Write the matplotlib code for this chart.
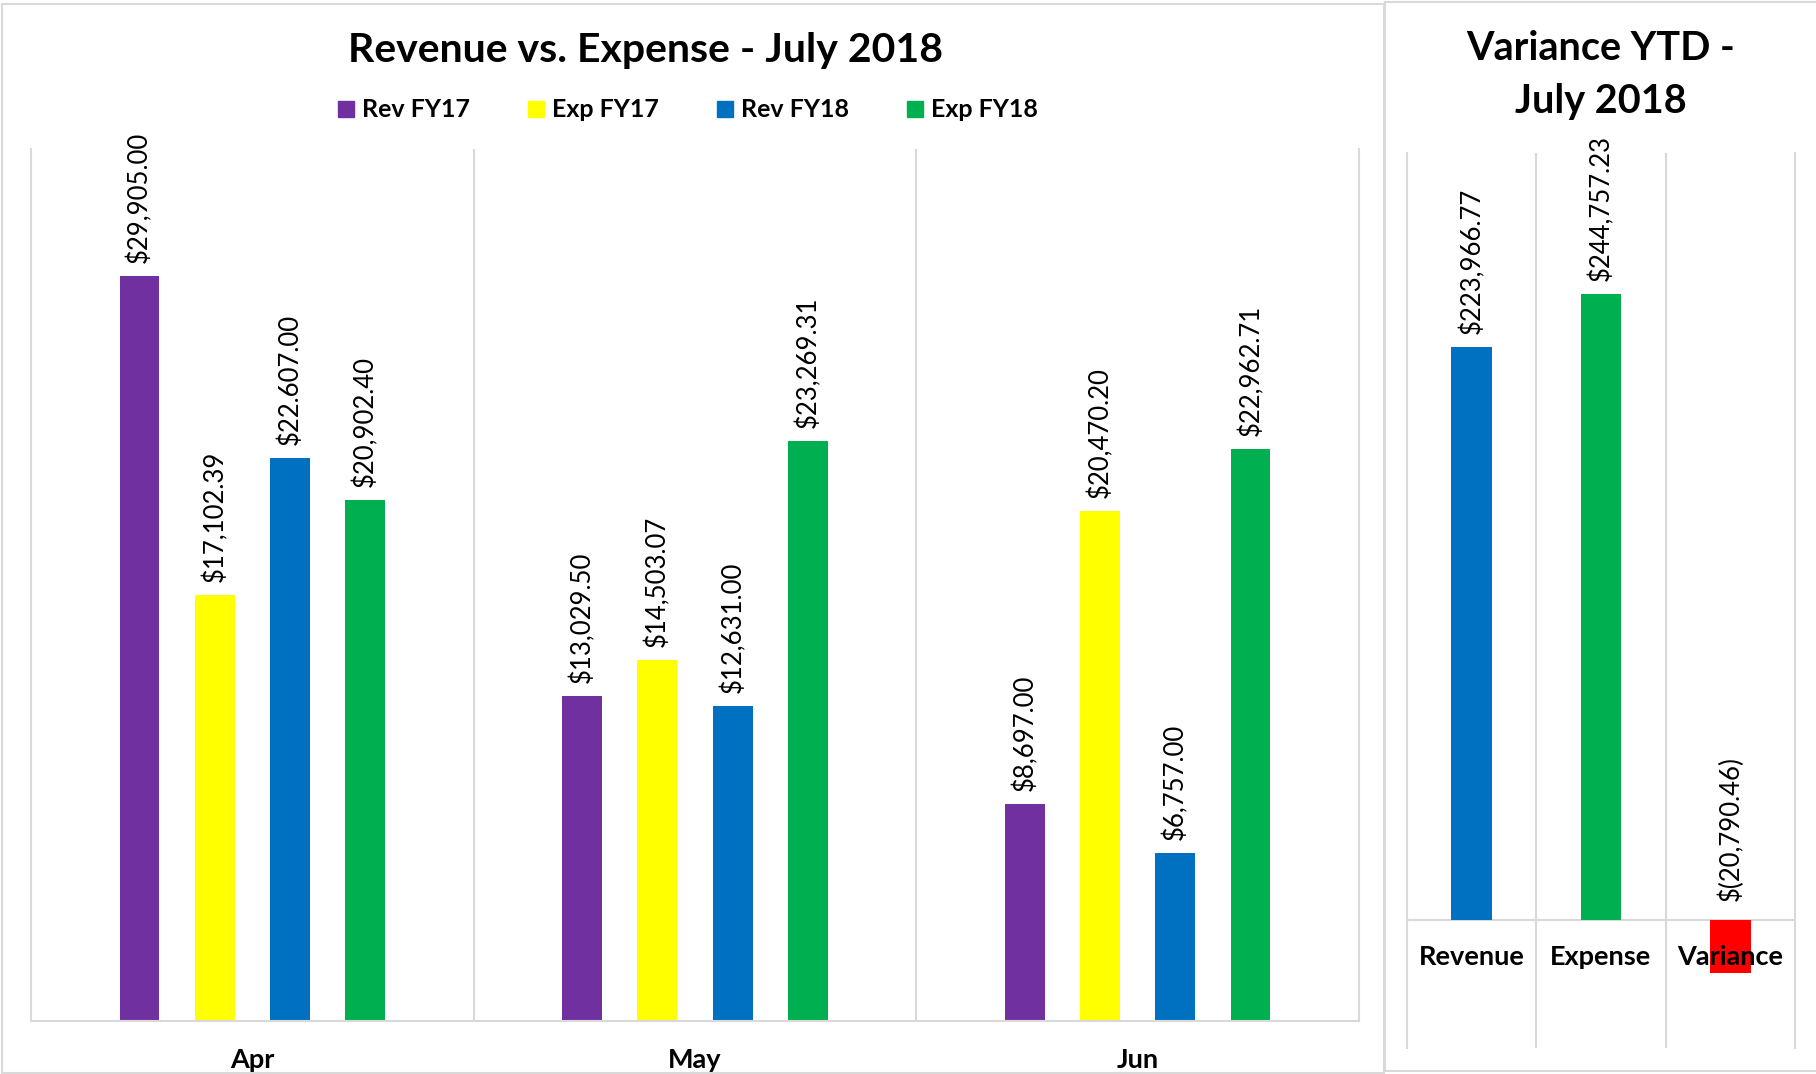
import numpy as np
import matplotlib
matplotlib.use('Agg')
import matplotlib.pyplot as plt
from matplotlib.patches import Rectangle

# monthly figures
months = ['Apr', 'May', 'Jun']
series = ['Rev FY17', 'Exp FY17', 'Rev FY18', 'Exp FY18']
rev_fy17 = [29905.00, 13029.50, 8697.00]
exp_fy17 = [17102.39, 14503.07, 20470.20]
rev_fy18 = [22607.00, 12631.00, 6757.00]
exp_fy18 = [20902.40, 23269.31, 22962.71]
colors = ['#7030A0', '#FFFF00', '#0070C0', '#00B050']

# year to date
ytd_names = ['Revenue', 'Expense', 'Variance']
ytd_values = [223966.77, 244757.23, -20790.46]
ytd_colors = ['#0070C0', '#00B050', '#FF0000']

# label text as it was typed in the sheet
label_fix = {(2, 0): '$22.607.00'}

GRID = '#D9D9D9'
W, H = 1816, 1074


def fx(px):
    return px / W


def fy(py):
    return 1 - py / H


def money(v):
    s = '{:,.2f}'.format(abs(v))
    return '$(' + s + ')' if v < 0 else '$' + s


plt.rcParams['font.family'] = ['Lato', 'DejaVu Sans']

fig = plt.figure(figsize=(W / 100, H / 100), dpi=100)

# left chart: monthly bars
ax = fig.add_axes([fx(31), fy(1021), fx(1359) - fx(31), fy(149) - fy(1021)])
x = np.arange(len(months))
offsets = [-0.255, -0.085, 0.085, 0.255]
for i, vals in enumerate([rev_fy17, exp_fy17, rev_fy18, exp_fy18]):
    bars = ax.bar(x + offsets[i], vals, width=0.09, color=colors[i], zorder=2)
    for j, b in enumerate(bars):
        txt = label_fix.get((i, j), money(vals[j]))
        ax.annotate(txt, (b.get_x() + b.get_width() / 2, b.get_height()),
                    xytext=(0, 13), textcoords='offset pixels',
                    rotation=90, ha='center', va='bottom', fontsize=18.5)

ax.set_xlim(-0.5, 2.5)
ax.set_ylim(0, 35000)
ax.set_yticks([])
ax.set_xticks(x)
ax.set_xticklabels(months, fontsize=19.5, fontweight='bold')
ax.tick_params(axis='x', length=0, pad=19.5)
ax.spines['top'].set_visible(False)
for s in ['left', 'right', 'bottom']:
    ax.spines[s].set_color(GRID)
    ax.spines[s].set_linewidth(1.5)
for b in [0.5, 1.5]:
    ax.axvline(b, color=GRID, lw=1.5, zorder=1)

# right chart: ytd totals
ax2 = fig.add_axes([fx(1407), fy(1048), fx(1795) - fx(1407), fy(153) - fy(1048)])
xr = np.arange(len(ytd_names))
bars = ax2.bar(xr, ytd_values, width=0.317, color=ytd_colors, zorder=2)
for j, b in enumerate(bars):
    v = ytd_values[j]
    ax2.annotate(money(v), (b.get_x() + b.get_width() / 2, max(v, 0)),
                 xytext=(0, 13 if v >= 0 else 19), textcoords='offset pixels',
                 rotation=90, ha='center', va='bottom', fontsize=18.5)
    ax2.annotate(ytd_names[j], (xr[j], 0), xytext=(0, -37),
                 textcoords='offset pixels', ha='center', va='center',
                 fontsize=19.5, fontweight='bold', zorder=5)

ax2.set_xlim(-0.5, 2.5)
ax2.set_ylim(-50000, 300000)
ax2.set_xticks([])
ax2.set_yticks([])
for s in ['top', 'bottom']:
    ax2.spines[s].set_visible(False)
for s in ['left', 'right']:
    ax2.spines[s].set_color(GRID)
    ax2.spines[s].set_linewidth(1.5)
for b in [0.5, 1.5]:
    ax2.axvline(b, color=GRID, lw=1.5, zorder=1)
ax2.axhline(0, color=GRID, lw=1.5, zorder=1)

# titles
fig.text(fx(645), fy(62), 'Revenue vs. Expense - July 2018', ha='center',
         va='baseline', fontsize=29.5, fontweight='bold')
fig.text(fx(1601), fy(60), 'Variance YTD -', ha='center', va='baseline',
         fontsize=28.5, fontweight='bold')
fig.text(fx(1601), fy(113), 'July 2018', ha='center', va='baseline',
         fontsize=28.5, fontweight='bold')

# legend
for k, name in enumerate(series):
    lx = [338, 528, 717, 907][k]
    fig.add_artist(Rectangle((fx(lx), fy(117)), fx(16), 16 / H,
                             transform=fig.transFigure, color=colors[k]))
    fig.text(fx(lx + 24), fy(117), name, ha='left', va='baseline',
             fontsize=18, fontweight='bold')

# chart frames
fig.add_artist(Rectangle((fx(2), fy(1073)), fx(1384) - fx(2), fy(4) - fy(1073),
                         transform=fig.transFigure, fill=False,
                         edgecolor=GRID, lw=1.5))
fig.add_artist(Rectangle((fx(1385), fy(1071)), 1 - fx(1385) + 0.01, fy(2) - fy(1071),
                         transform=fig.transFigure, fill=False,
                         edgecolor=GRID, lw=1.5))

fig.savefig('out.png', dpi=100)
